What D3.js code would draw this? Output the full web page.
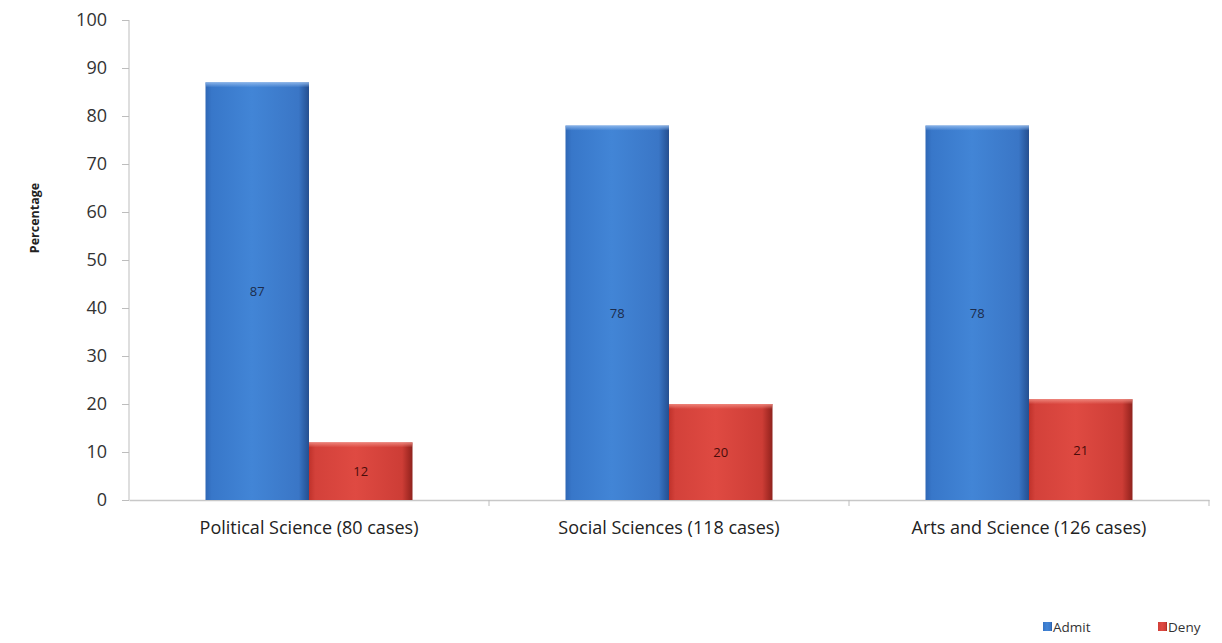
<!DOCTYPE html>
<html>
<head>
<meta charset="utf-8">
<script src="https://cdn.jsdelivr.net/npm/d3@7/dist/d3.min.js"></script>
<style>
  html, body { margin: 0; padding: 0; background: #ffffff; }
  svg { display: block; }
  text { font-family: "Open Sans", Lato, "Liberation Sans", sans-serif; }
</style>
</head>
<body>
<svg id="chart" width="1222" height="643"></svg>
<script>
// Admission outcomes by department
const categories = ["Political Science (80 cases)", "Social Sciences (118 cases)", "Arts and Science (126 cases)"];
const seriesNames = ["Admit", "Deny"];
const admitValues = [87, 78, 78];
const denyValues = [12, 20, 21];
const yTicks = [0, 10, 20, 30, 40, 50, 60, 70, 80, 90, 100];

const FONT = "'Open Sans', Lato, sans-serif";
const svg = d3.select("#chart");
const W = 1222, H = 643;
const margin = { left: 129, right: 13, top: 20, bottom: 143 };
const plotW = W - margin.left - margin.right;   // 1080
const plotH = H - margin.top - margin.bottom;   // 480

const x = d3.scaleBand().domain(categories).range([0, plotW]).paddingInner(0).paddingOuter(0);
const barW = x.bandwidth() * 0.2875;
const sub = d3.scaleBand().domain(seriesNames).range([0, barW * 2]);
const y = d3.scaleLinear().domain([0, 100]).range([plotH, 0]);

const defs = svg.append("defs");
function hGrad(id, stops) {
  const g = defs.append("linearGradient").attr("id", id).attr("x1", "0").attr("x2", "1").attr("y1", "0").attr("y2", "0");
  stops.forEach(s => g.append("stop").attr("offset", s[0]).attr("stop-color", s[1]));
}
hGrad("gAdmit", [[0, "#2f67b5"], [0.06, "#3877c9"], [0.45, "#4285d6"], [0.9, "#3a76c6"], [0.96, "#2c5ea6"], [1, "#264f8f"]]);
hGrad("gDeny", [[0, "#c0322b"], [0.06, "#d3413a"], [0.45, "#df4a42"], [0.9, "#cd3d36"], [0.96, "#a92c26"], [1, "#8e231e"]]);
function vGrad(id, top) {
  const g = defs.append("linearGradient").attr("id", id).attr("x1", "0").attr("x2", "0").attr("y1", "0").attr("y2", "1");
  g.append("stop").attr("offset", 0).attr("stop-color", top).attr("stop-opacity", 0.9);
  g.append("stop").attr("offset", 1).attr("stop-color", top).attr("stop-opacity", 0);
}
vGrad("gTopA", "#8fb8ec");
vGrad("gTopD", "#f08a80");

const g = svg.append("g").attr("transform", `translate(${margin.left},${margin.top})`);

// Y axis
const yAxis = d3.axisLeft(y).tickValues(yTicks).tickSize(7).tickPadding(15);
const yG = g.append("g").call(yAxis);
yG.select(".domain").attr("stroke", "#bdbdbd").attr("d", `M0,${plotH}V0`);
yG.selectAll(".tick line").attr("stroke", "#bdbdbd");
yG.selectAll(".tick text").attr("fill", "#333").attr("font-size", 18).attr("font-family", FONT);

// X axis
const xAxis = d3.axisBottom(x).tickSize(0).tickPadding(21);
const xG = g.append("g").attr("transform", `translate(0,${plotH})`).call(xAxis);
xG.select(".domain").attr("stroke", "#c8c8c8").attr("stroke-width", 1.5);
xG.selectAll(".tick text").attr("fill", "#222").attr("font-size", 18).attr("font-family", FONT);
// boundary ticks between categories
const bounds = categories.map(c => x(c)).concat([plotW]);
xG.selectAll(".bt").data(bounds.slice(1)).join("line")
  .attr("x1", d => d).attr("x2", d => d).attr("y1", 0).attr("y2", 6)
  .attr("stroke", "#bdbdbd");

// Bars
const rows = categories.map((c, i) => ({ cat: c, Admit: admitValues[i], Deny: denyValues[i] }));
const groups = g.selectAll(".grp").data(rows).join("g")
  .attr("transform", d => `translate(${x(d.cat) + x.bandwidth() / 2 - barW},0)`);

const fills = { Admit: "url(#gAdmit)", Deny: "url(#gDeny)" };
const tops = { Admit: "url(#gTopA)", Deny: "url(#gTopD)" };
const labelColor = { Admit: "#1c2c4c", Deny: "#4a0c0a" };

groups.each(function (d) {
  const gg = d3.select(this);
  seriesNames.forEach(s => {
    const v = d[s];
    const bx = sub(s), bw = sub.bandwidth();
    gg.append("rect").attr("x", bx).attr("y", y(v)).attr("width", bw).attr("height", plotH - y(v))
      .attr("fill", fills[s]);
    gg.append("rect").attr("x", bx).attr("y", y(v)).attr("width", bw).attr("height", 5)
      .attr("fill", tops[s]);
    gg.append("text").attr("x", bx + bw / 2).attr("y", (y(v) + plotH) / 2 + 5)
      .attr("text-anchor", "middle").attr("font-size", 13).attr("fill", labelColor[s])
      .text(v);
  });
});

// Y axis title
svg.append("text")
  .attr("transform", "translate(39,218) rotate(-90)")
  .attr("text-anchor", "middle").attr("font-size", 12.5).attr("font-weight", "bold").attr("fill", "#222")
  .text("Percentage");

// Legend
const legend = svg.append("g").attr("transform", "translate(1043,632)");
const legendItems = [{ name: "Admit", fill: "url(#gAdmit)", dx: 0 }, { name: "Deny", fill: "url(#gDeny)", dx: 115 }];
legendItems.forEach(it => {
  legend.append("rect").attr("x", it.dx).attr("y", -10).attr("width", 9).attr("height", 9).attr("fill", it.fill);
  legend.append("text").attr("x", it.dx + 10).attr("y", 0).attr("font-size", 13.5).attr("fill", "#333").text(it.name);
});
</script>
</body>
</html>
